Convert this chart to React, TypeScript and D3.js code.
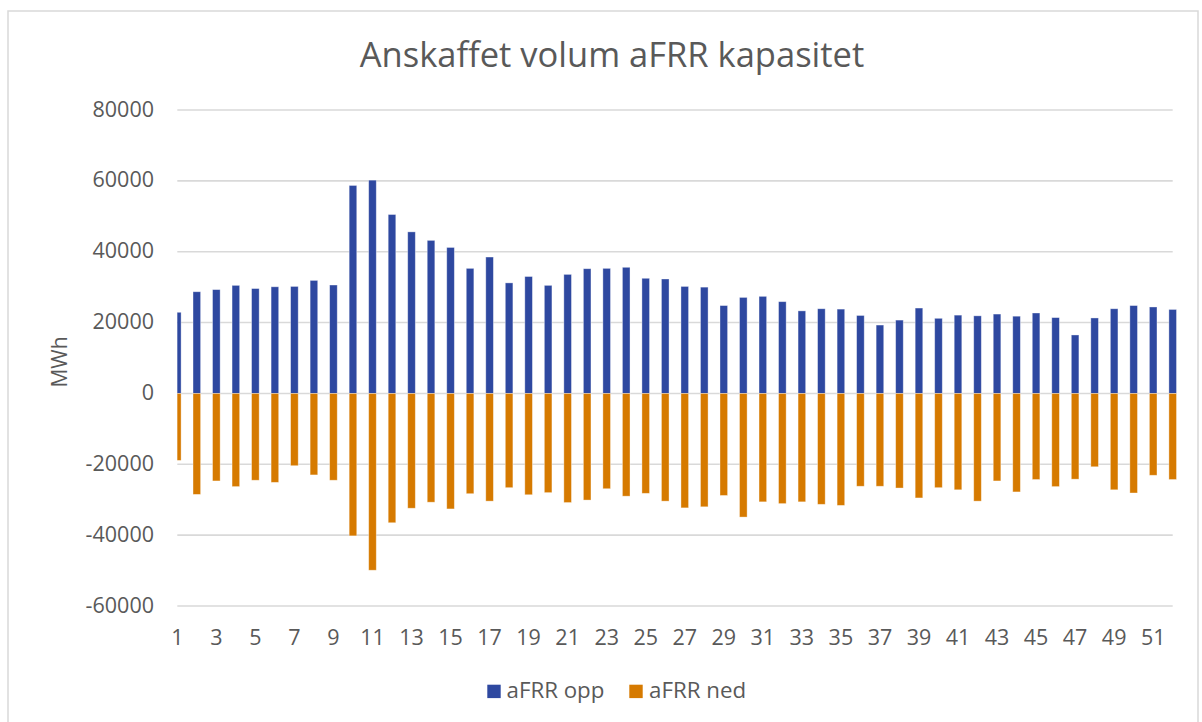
import React from "react";
import * as d3 from "d3";

const weeks: number[] = Array.from({ length: 52 }, (_, i) => i + 1);
const oppValues: number[] = [
  22900, 28700, 29300, 30500, 29600, 30100, 30200, 31900, 30600, 58700,
  60200, 50500, 45600, 43200, 41200, 35300, 38500, 31200, 33000, 30500,
  33600, 35200, 35300, 35600, 32500, 32300, 30200, 30000, 24800, 27100,
  27400, 25900, 23300, 23900, 23800, 22000, 19300, 20700, 24100, 21200,
  22100, 21900, 22400, 21800, 22700, 21400, 16500, 21300, 23900, 24800,
  24400, 23700,
];
const nedValues: number[] = [
  -18900, -28500, -24700, -26300, -24500, -25100, -20400, -23000, -24500, -40200,
  -49900, -36500, -32400, -30700, -32600, -28300, -30400, -26600, -28600, -28000,
  -30800, -30100, -26900, -29000, -28200, -30400, -32300, -32000, -28800, -34900,
  -30600, -31100, -30600, -31300, -31600, -26200, -26200, -26700, -29500, -26600,
  -27200, -30400, -24700, -27800, -24300, -26300, -24200, -20700, -27200, -28100,
  -23100, -24300,
];
const yTicks: number[] = [-60000, -40000, -20000, 0, 20000, 40000, 60000, 80000];
const xLabels: number[] = weeks.filter((w) => w % 2 === 1);
const seriesNames: string[] = ["aFRR opp", "aFRR ned"];
const seriesColors: string[] = ["#2E48A0", "#D67A00"];
const title = "Anskaffet volum aFRR kapasitet";
const yTitle = "MWh";

const W = 1202;
const H = 722;
const FONT = "'Open Sans', 'Liberation Sans', sans-serif";
const TEXT = "#595959";

export default function App() {
  const x = d3.scalePoint<number>().domain(weeks).range([177.3, 1172.7]);
  const y = d3.scaleLinear().domain([-60000, 80000]).range([606, 110]);
  const bw = 7.6;
  const y0 = y(0);

  return (
    <svg
      width={W}
      height={H}
      style={{ position: "absolute", left: 0, top: 0, background: "#fff" }}
      fontFamily={FONT}
    >
      <defs>
        <clipPath id="plotclip">
          <rect x={177.3} y={0} width={1010} height={H} />
        </clipPath>
      </defs>
      <rect x={0} y={0} width={W} height={H} fill="#fff" />
      <rect x={8} y={11} width={1190} height={730} fill="none" stroke="#d9d9d9" strokeWidth={1.5} />
      <text x={612} y={67} textAnchor="middle" fontSize={34.5} fill={TEXT}>
        {title}
      </text>
      {yTicks.map((t) => (
        <g key={t}>
          <line x1={177.3} x2={1172.7} y1={y(t)} y2={y(t)} stroke="#d9d9d9" strokeWidth={1.6} />
          <text x={154} y={y(t) - 1} dy="0.35em" textAnchor="end" fontSize={21.5} fill={TEXT}>
            {t}
          </text>
        </g>
      ))}
      <text
        transform={`translate(67,362) rotate(-90)`}
        textAnchor="middle"
        fontSize={21}
        fill={TEXT}
      >
        {yTitle}
      </text>
      <g clipPath="url(#plotclip)">
        {weeks.map((w, i) => (
          <g key={w}>
            <rect
              x={(x(w) as number) - bw / 2}
              y={y(oppValues[i])}
              width={bw}
              height={y0 - y(oppValues[i])}
              fill={seriesColors[0]}
              stroke="#ffffff"
              strokeOpacity={0.45}
              strokeWidth={0.8}
            />
            <rect
              x={(x(w) as number) - bw / 2}
              y={y0}
              width={bw}
              height={y(nedValues[i]) - y0}
              fill={seriesColors[1]}
              stroke="#ffffff"
              strokeOpacity={0.45}
              strokeWidth={0.8}
            />
          </g>
        ))}
      </g>
      {xLabels.map((w) => (
        <text key={w} x={x(w) as number} y={644.5} textAnchor="middle" fontSize={21.5} fill={TEXT}>
          {w}
        </text>
      ))}
      <g>
        <rect x={487.3} y={684.7} width={13.4} height={13.4} fill={seriesColors[0]} />
        <text x={506.5} y={697.5} fontSize={22.3} fill={TEXT}>
          {seriesNames[0]}
        </text>
        <rect x={629.3} y={684.7} width={13.4} height={13.4} fill={seriesColors[1]} />
        <text x={649} y={697.5} fontSize={22.3} fill={TEXT}>
          {seriesNames[1]}
        </text>
      </g>
    </svg>
  );
}
